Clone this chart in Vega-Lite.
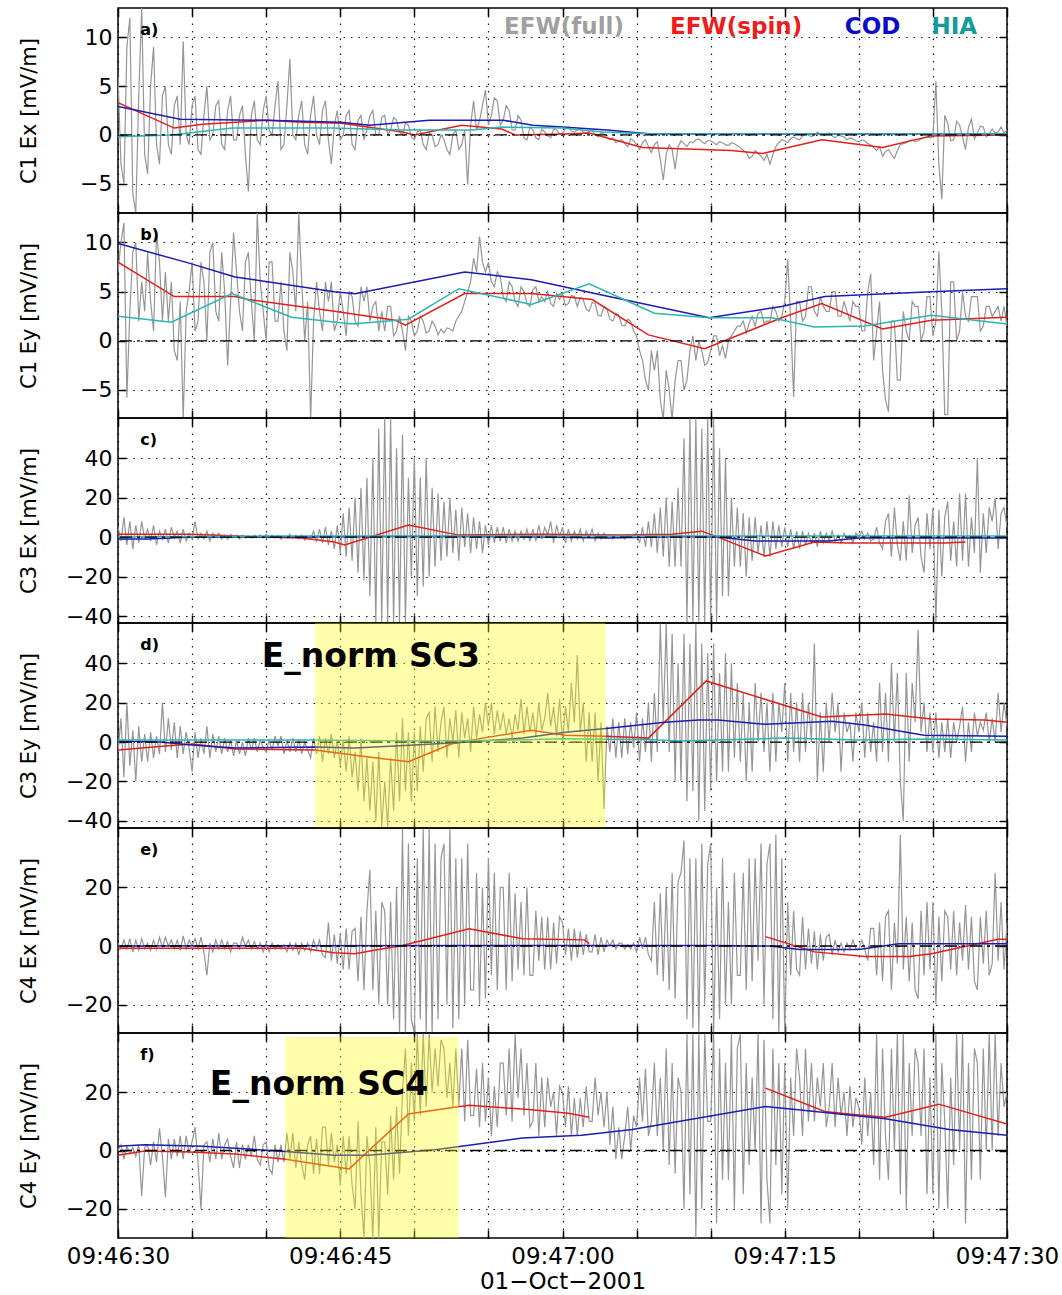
{
"$schema":"https://vega.github.io/schema/vega-lite/v6.json",
"padding":{"left":17,"top":6,"right":5,"bottom":5},
"spacing":0,
"bounds":"flush",
"config":{
 "font":"DejaVu Sans",
 "view":{"stroke":"#000","strokeWidth":1.5},
 "axis":{"grid":true,"gridColor":"#000","gridDash":[1.5,6],"gridWidth":1.2,"gridOpacity":0.9,"domain":false,"tickColor":"#000","tickSize":-8,"tickWidth":1.5,"labelFont":"DejaVu Sans","labelFontSize":22,"labelColor":"#000","titleFont":"DejaVu Sans","titleFontSize":21,"titleFontWeight":"normal","titleColor":"#000","labelFlush":false,"labelOverlap":false},
 "concat":{"spacing":0}
},
"datasets":{
"ga":[{"t":0,"v":6},{"t":0.2,"v":-3},{"t":0.4,"v":-5},{"t":0.6,"v":9},{"t":0.8,"v":12},{"t":1,"v":-6},{"t":1.2,"v":-8},{"t":1.4,"v":4},{"t":1.6,"v":13},{"t":1.8,"v":-2},{"t":2,"v":-4},{"t":2.2,"v":5},{"t":2.4,"v":9},{"t":2.6,"v":-1},{"t":2.8,"v":-3},{"t":3,"v":4},{"t":3.2,"v":5},{"t":3.4,"v":-1},{"t":3.6,"v":-2},{"t":3.8,"v":3},{"t":4,"v":4},{"t":4.2,"v":-1},{"t":4.4,"v":9.6},{"t":4.6,"v":0},{"t":4.8,"v":-1},{"t":5,"v":3},{"t":5.2,"v":4},{"t":5.4,"v":-1.5},{"t":5.6,"v":-2},{"t":5.8,"v":2},{"t":6,"v":5},{"t":6.2,"v":-0.5},{"t":6.4,"v":0},{"t":6.6,"v":3},{"t":6.8,"v":3.5},{"t":7,"v":-1},{"t":7.2,"v":-1.5},{"t":7.4,"v":2.5},{"t":7.6,"v":4},{"t":7.8,"v":-0.5},{"t":8,"v":-0.5},{"t":8.2,"v":2},{"t":8.4,"v":3},{"t":8.6,"v":-2},{"t":8.8,"v":-5.8},{"t":9,"v":2},{"t":9.2,"v":3.5},{"t":9.4,"v":-0.5},{"t":9.6,"v":-1},{"t":9.8,"v":2.5},{"t":10,"v":4},{"t":10.2,"v":0.5},{"t":10.4,"v":0},{"t":10.6,"v":3},{"t":10.8,"v":5.5},{"t":11,"v":-1.5},{"t":11.2,"v":-1},{"t":11.4,"v":3},{"t":11.6,"v":7.8},{"t":11.8,"v":0},{"t":12,"v":-0.5},{"t":12.2,"v":2},{"t":12.4,"v":3.5},{"t":12.6,"v":-1},{"t":12.8,"v":-2},{"t":13,"v":2},{"t":13.2,"v":4},{"t":13.4,"v":0},{"t":13.6,"v":-1},{"t":13.8,"v":2.5},{"t":14,"v":3.5},{"t":14.2,"v":-0.5},{"t":14.4,"v":-3},{"t":14.6,"v":1},{"t":14.8,"v":2.5},{"t":15,"v":-0.5},{"t":15.2,"v":0},{"t":15.4,"v":2},{"t":15.6,"v":2.5},{"t":15.8,"v":-1},{"t":16,"v":-1.5},{"t":16.2,"v":1.5},{"t":16.4,"v":2},{"t":16.6,"v":-0.5},{"t":16.8,"v":0.5},{"t":17,"v":2},{"t":17.2,"v":2.5},{"t":17.4,"v":0},{"t":17.6,"v":0},{"t":17.8,"v":1.8},{"t":18,"v":2},{"t":18.2,"v":0},{"t":18.4,"v":0.5},{"t":18.6,"v":1.8},{"t":18.8,"v":1.5},{"t":19,"v":0.3},{"t":19.2,"v":0},{"t":19.4,"v":1.2},{"t":19.6,"v":1},{"t":19.8,"v":-0.2},{"t":20,"v":-0.5},{"t":20.2,"v":0.3},{"t":20.4,"v":0.5},{"t":20.6,"v":-1},{"t":20.8,"v":-1.5},{"t":21,"v":0.2},{"t":21.2,"v":0},{"t":21.4,"v":-1.2},{"t":21.6,"v":-1},{"t":21.8,"v":0},{"t":22,"v":-0.5},{"t":22.2,"v":-1.5},{"t":22.4,"v":-2},{"t":22.6,"v":0},{"t":22.8,"v":0.5},{"t":23,"v":-1.5},{"t":23.2,"v":-1},{"t":23.4,"v":0.5},{"t":23.6,"v":-5.1},{"t":23.8,"v":1},{"t":24,"v":3.5},{"t":24.2,"v":0.5},{"t":24.4,"v":1.5},{"t":24.6,"v":3},{"t":24.8,"v":4.6},{"t":25,"v":1},{"t":25.2,"v":2},{"t":25.4,"v":3.8},{"t":25.6,"v":3.5},{"t":25.8,"v":1},{"t":26,"v":1.5},{"t":26.2,"v":3},{"t":26.4,"v":2.5},{"t":26.6,"v":0.5},{"t":26.8,"v":0.5},{"t":27,"v":2},{"t":27.2,"v":1.5},{"t":27.4,"v":-0.3},{"t":27.6,"v":-0.5},{"t":27.8,"v":0.8},{"t":28,"v":0.5},{"t":28.2,"v":-0.3},{"t":28.4,"v":-0.5},{"t":28.6,"v":0.6},{"t":28.8,"v":0.3},{"t":29,"v":-0.1},{"t":29.2,"v":-0.3},{"t":29.4,"v":0.6},{"t":29.6,"v":0.5},{"t":29.8,"v":0.1},{"t":30,"v":0.2},{"t":30.2,"v":0.6},{"t":30.4,"v":0.8},{"t":30.6,"v":0.4},{"t":30.8,"v":0.3},{"t":31,"v":0.5},{"t":31.2,"v":0.6},{"t":31.4,"v":0.3},{"t":31.6,"v":0.2},{"t":31.8,"v":0.4},{"t":32,"v":0.4},{"t":32.2,"v":0.1},{"t":32.4,"v":-0.2},{"t":32.6,"v":0.2},{"t":32.8,"v":0.1},{"t":33,"v":-0.3},{"t":33.2,"v":-0.5},{"t":33.4,"v":-0.3},{"t":33.6,"v":-0.8},{"t":33.8,"v":-0.6},{"t":34,"v":-0.5},{"t":34.2,"v":-0.9},{"t":34.4,"v":-1.2},{"t":34.6,"v":-0.4},{"t":34.8,"v":-0.6},{"t":35,"v":-1},{"t":35.2,"v":-1.5},{"t":35.4,"v":-0.8},{"t":35.6,"v":-0.5},{"t":35.8,"v":-1.2},{"t":36,"v":-1.8},{"t":36.2,"v":-1},{"t":36.4,"v":-0.7},{"t":36.6,"v":-2.5},{"t":36.8,"v":-4.6},{"t":37,"v":-2},{"t":37.2,"v":-1},{"t":37.4,"v":-1.5},{"t":37.6,"v":-3.5},{"t":37.8,"v":-1.2},{"t":38,"v":-0.6},{"t":38.2,"v":-0.9},{"t":38.4,"v":-1.2},{"t":38.6,"v":-0.7},{"t":38.8,"v":-0.8},{"t":39,"v":-0.5},{"t":39.2,"v":-0.4},{"t":39.4,"v":-0.7},{"t":39.6,"v":-0.9},{"t":39.8,"v":-0.6},{"t":40,"v":-0.6},{"t":40.2,"v":-0.8},{"t":40.4,"v":-1},{"t":40.6,"v":-0.7},{"t":40.8,"v":-0.8},{"t":41,"v":-1},{"t":41.2,"v":-1.1},{"t":41.4,"v":-0.8},{"t":41.6,"v":-0.9},{"t":41.8,"v":-1.1},{"t":42,"v":-1.3},{"t":42.2,"v":-1.6},{"t":42.4,"v":-1.8},{"t":42.6,"v":-2.4},{"t":42.8,"v":-2.2},{"t":43,"v":-1.6},{"t":43.2,"v":-1.9},{"t":43.4,"v":-2.2},{"t":43.6,"v":-2.6},{"t":43.8,"v":-2},{"t":44,"v":-3},{"t":44.2,"v":-2},{"t":44.4,"v":-1.2},{"t":44.6,"v":-0.8},{"t":44.8,"v":-0.5},{"t":45,"v":-0.6},{"t":45.2,"v":-0.8},{"t":45.4,"v":-0.4},{"t":45.6,"v":-0.2},{"t":45.8,"v":-0.4},{"t":46,"v":-0.5},{"t":46.2,"v":-0.1},{"t":46.4,"v":0.1},{"t":46.6,"v":0},{"t":46.8,"v":-0.2},{"t":47,"v":0},{"t":47.2,"v":0.3},{"t":47.4,"v":0.1},{"t":47.6,"v":0},{"t":47.8,"v":0.1},{"t":48,"v":0.2},{"t":48.2,"v":-0.1},{"t":48.4,"v":-0.3},{"t":48.6,"v":0},{"t":48.8,"v":-0.1},{"t":49,"v":-0.2},{"t":49.2,"v":-0.5},{"t":49.4,"v":-0.3},{"t":49.6,"v":-0.4},{"t":49.8,"v":-0.6},{"t":50,"v":-0.7},{"t":50.2,"v":-0.5},{"t":50.4,"v":-0.6},{"t":50.6,"v":-0.9},{"t":50.8,"v":-1},{"t":51,"v":-1.3},{"t":51.2,"v":-1.6},{"t":51.4,"v":-1.2},{"t":51.6,"v":-2.2},{"t":51.8,"v":-1.7},{"t":52,"v":-1.5},{"t":52.2,"v":-2},{"t":52.4,"v":-2.4},{"t":52.6,"v":-1.6},{"t":52.8,"v":-1},{"t":53,"v":-0.9},{"t":53.2,"v":-0.8},{"t":53.4,"v":-0.6},{"t":53.6,"v":-0.5},{"t":53.8,"v":-0.7},{"t":54,"v":-0.6},{"t":54.2,"v":-0.4},{"t":54.4,"v":-0.3},{"t":54.6,"v":-0.2},{"t":54.8,"v":-0.3},{"t":55,"v":-0.2},{"t":55.2,"v":5.5},{"t":55.4,"v":-3},{"t":55.6,"v":-6.6},{"t":55.8,"v":2},{"t":56,"v":1.2},{"t":56.2,"v":-0.6},{"t":56.4,"v":-0.5},{"t":56.6,"v":1.4},{"t":56.8,"v":1},{"t":57,"v":-0.2},{"t":57.2,"v":-1.5},{"t":57.4,"v":0.8},{"t":57.6,"v":1.6},{"t":57.8,"v":-0.4},{"t":58,"v":0.2},{"t":58.2,"v":0.9},{"t":58.4,"v":0.8},{"t":58.6,"v":-0.2},{"t":58.8,"v":0.1},{"t":59,"v":0.6},{"t":59.2,"v":0.2},{"t":59.4,"v":0.3},{"t":59.6,"v":0.8},{"t":59.8,"v":0.2},{"t":60,"v":0.5}],
"gb":[{"t":0,"v":7},{"t":0.2,"v":10},{"t":0.4,"v":12},{"t":0.6,"v":-5.8},{"t":0.8,"v":3},{"t":1,"v":9},{"t":1.2,"v":10},{"t":1.4,"v":2},{"t":1.6,"v":6},{"t":1.8,"v":3},{"t":2,"v":9},{"t":2.2,"v":4},{"t":2.4,"v":1},{"t":2.6,"v":11},{"t":2.8,"v":8},{"t":3,"v":2},{"t":3.2,"v":7},{"t":3.4,"v":2},{"t":3.6,"v":6},{"t":3.8,"v":-1},{"t":4,"v":-2},{"t":4.2,"v":4},{"t":4.4,"v":-8},{"t":4.6,"v":3},{"t":4.8,"v":5},{"t":5,"v":8},{"t":5.2,"v":1},{"t":5.4,"v":2},{"t":5.6,"v":8},{"t":5.8,"v":6},{"t":6,"v":0},{"t":6.2,"v":9},{"t":6.4,"v":10},{"t":6.6,"v":3},{"t":6.8,"v":2},{"t":7,"v":9},{"t":7.2,"v":5},{"t":7.4,"v":-2.5},{"t":7.6,"v":4},{"t":7.8,"v":11},{"t":8,"v":7},{"t":8.2,"v":3},{"t":8.4,"v":1},{"t":8.6,"v":8},{"t":8.8,"v":9},{"t":9,"v":4},{"t":9.2,"v":0},{"t":9.4,"v":13},{"t":9.6,"v":6},{"t":9.8,"v":3},{"t":10,"v":0},{"t":10.2,"v":8},{"t":10.4,"v":8},{"t":10.6,"v":2},{"t":10.8,"v":2},{"t":11,"v":6},{"t":11.2,"v":1},{"t":11.4,"v":-1},{"t":11.6,"v":9},{"t":11.8,"v":7},{"t":12,"v":3},{"t":12.2,"v":13},{"t":12.4,"v":6},{"t":12.6,"v":0},{"t":12.8,"v":4},{"t":13,"v":-8},{"t":13.2,"v":2},{"t":13.4,"v":6},{"t":13.6,"v":3},{"t":13.8,"v":1},{"t":14,"v":6},{"t":14.2,"v":4},{"t":14.4,"v":6},{"t":14.6,"v":1},{"t":14.8,"v":2},{"t":15,"v":5},{"t":15.2,"v":3},{"t":15.4,"v":0.5},{"t":15.6,"v":5},{"t":15.8,"v":4.5},{"t":16,"v":2},{"t":16.2,"v":1.5},{"t":16.4,"v":5.5},{"t":16.6,"v":4},{"t":16.8,"v":5.5},{"t":17,"v":2},{"t":17.2,"v":3.5},{"t":17.4,"v":4},{"t":17.6,"v":1},{"t":17.8,"v":3},{"t":18,"v":1},{"t":18.2,"v":3.5},{"t":18.4,"v":3.5},{"t":18.6,"v":0.5},{"t":18.8,"v":1},{"t":19,"v":2.5},{"t":19.2,"v":1},{"t":19.4,"v":-1},{"t":19.6,"v":2.5},{"t":19.8,"v":2},{"t":20,"v":0.5},{"t":20.2,"v":1},{"t":20.4,"v":2.5},{"t":20.6,"v":2},{"t":20.8,"v":0.8},{"t":21,"v":1},{"t":21.2,"v":2},{"t":21.4,"v":1.5},{"t":21.6,"v":0.6},{"t":21.8,"v":1.2},{"t":22,"v":0.8},{"t":22.2,"v":1.3},{"t":22.4,"v":1.2},{"t":22.6,"v":1},{"t":22.8,"v":2},{"t":23,"v":2.5},{"t":23.2,"v":3},{"t":23.4,"v":4},{"t":23.6,"v":5},{"t":23.8,"v":6},{"t":24,"v":8.4},{"t":24.2,"v":7},{"t":24.4,"v":10.6},{"t":24.6,"v":8},{"t":24.8,"v":7},{"t":25,"v":8},{"t":25.2,"v":6},{"t":25.4,"v":5.5},{"t":25.6,"v":7},{"t":25.8,"v":6.5},{"t":26,"v":4.5},{"t":26.2,"v":4},{"t":26.4,"v":6},{"t":26.6,"v":5.5},{"t":26.8,"v":4},{"t":27,"v":3.5},{"t":27.2,"v":5.5},{"t":27.4,"v":5},{"t":27.6,"v":3.8},{"t":27.8,"v":3.5},{"t":28,"v":5.2},{"t":28.2,"v":5.5},{"t":28.4,"v":4},{"t":28.6,"v":4.5},{"t":28.8,"v":4},{"t":29,"v":5},{"t":29.2,"v":3.8},{"t":29.4,"v":3.5},{"t":29.6,"v":4.8},{"t":29.8,"v":4.2},{"t":30,"v":4.8},{"t":30.2,"v":3.6},{"t":30.4,"v":3.8},{"t":30.6,"v":4.6},{"t":30.8,"v":4.5},{"t":31,"v":3.5},{"t":31.2,"v":4.4},{"t":31.4,"v":4.2},{"t":31.6,"v":3.2},{"t":31.8,"v":3},{"t":32,"v":3.9},{"t":32.2,"v":3.8},{"t":32.4,"v":2.6},{"t":32.6,"v":2.5},{"t":32.8,"v":3.5},{"t":33,"v":3.2},{"t":33.2,"v":2.2},{"t":33.4,"v":2},{"t":33.6,"v":2.8},{"t":33.8,"v":2.6},{"t":34,"v":1.6},{"t":34.2,"v":1.5},{"t":34.4,"v":2.2},{"t":34.6,"v":2},{"t":34.8,"v":1},{"t":35,"v":0.5},{"t":35.2,"v":-1},{"t":35.4,"v":-2},{"t":35.6,"v":-4},{"t":35.8,"v":-5},{"t":36,"v":-1},{"t":36.2,"v":-3},{"t":36.4,"v":-1},{"t":36.6,"v":-6},{"t":36.8,"v":-8},{"t":37,"v":-3},{"t":37.2,"v":-5},{"t":37.4,"v":-8},{"t":37.6,"v":-4},{"t":37.8,"v":-2},{"t":38,"v":-2},{"t":38.2,"v":-5},{"t":38.4,"v":-4},{"t":38.6,"v":-1},{"t":38.8,"v":0.5},{"t":39,"v":-2},{"t":39.2,"v":0},{"t":39.4,"v":-1},{"t":39.6,"v":-2.5},{"t":39.8,"v":-2.2},{"t":40,"v":-1},{"t":40.2,"v":0.5},{"t":40.4,"v":0.5},{"t":40.6,"v":-1.5},{"t":40.8,"v":-0.5},{"t":41,"v":-1.8},{"t":41.2,"v":0},{"t":41.4,"v":0.5},{"t":41.6,"v":1},{"t":41.8,"v":1.5},{"t":42,"v":1.5},{"t":42.2,"v":2},{"t":42.4,"v":0.8},{"t":42.6,"v":1.8},{"t":42.8,"v":2.5},{"t":43,"v":1.5},{"t":43.2,"v":2.8},{"t":43.4,"v":3},{"t":43.6,"v":1.8},{"t":43.8,"v":2},{"t":44,"v":2},{"t":44.2,"v":3.5},{"t":44.4,"v":3},{"t":44.6,"v":2},{"t":44.8,"v":2.5},{"t":45,"v":4},{"t":45.2,"v":8.3},{"t":45.4,"v":2},{"t":45.6,"v":-5.7},{"t":45.8,"v":4},{"t":46,"v":4},{"t":46.2,"v":2},{"t":46.4,"v":2.5},{"t":46.6,"v":5.5},{"t":46.8,"v":5.5},{"t":47,"v":3},{"t":47.2,"v":2.5},{"t":47.4,"v":4.5},{"t":47.6,"v":3.5},{"t":47.8,"v":3},{"t":48,"v":3},{"t":48.2,"v":5},{"t":48.4,"v":5},{"t":48.6,"v":2.5},{"t":48.8,"v":2.5},{"t":49,"v":4},{"t":49.2,"v":3},{"t":49.4,"v":2},{"t":49.6,"v":4},{"t":49.8,"v":3.5},{"t":50,"v":3.5},{"t":50.2,"v":1},{"t":50.4,"v":1},{"t":50.6,"v":5},{"t":50.8,"v":6.8},{"t":51,"v":-2},{"t":51.2,"v":1},{"t":51.4,"v":4},{"t":51.6,"v":-3},{"t":51.8,"v":-6},{"t":52,"v":-7.2},{"t":52.2,"v":2},{"t":52.4,"v":2},{"t":52.6,"v":-4},{"t":52.8,"v":-4},{"t":53,"v":3},{"t":53.2,"v":1},{"t":53.4,"v":0},{"t":53.6,"v":4},{"t":53.8,"v":3.5},{"t":54,"v":3.5},{"t":54.2,"v":0},{"t":54.4,"v":1},{"t":54.6,"v":4.5},{"t":54.8,"v":4.5},{"t":55,"v":0.5},{"t":55.2,"v":2},{"t":55.4,"v":9.1},{"t":55.6,"v":3},{"t":55.8,"v":-7.5},{"t":56,"v":-7.5},{"t":56.2,"v":6},{"t":56.4,"v":6},{"t":56.6,"v":0},{"t":56.8,"v":1},{"t":57,"v":5},{"t":57.2,"v":2.5},{"t":57.4,"v":2},{"t":57.6,"v":4.5},{"t":57.8,"v":4.5},{"t":58,"v":4.5},{"t":58.2,"v":1},{"t":58.4,"v":1.5},{"t":58.6,"v":3.5},{"t":58.8,"v":3.5},{"t":59,"v":2.5},{"t":59.2,"v":3},{"t":59.4,"v":3.5},{"t":59.6,"v":2},{"t":59.8,"v":3.5},{"t":60,"v":1.5}],
"gc":[{"t":0,"v":5},{"t":0.2,"v":-2},{"t":0.4,"v":10},{"t":0.6,"v":-4},{"t":0.8,"v":8},{"t":1,"v":-6},{"t":1.2,"v":6},{"t":1.4,"v":-3},{"t":1.6,"v":8},{"t":1.8,"v":-1},{"t":2,"v":4},{"t":2.2,"v":-2},{"t":2.4,"v":6},{"t":2.6,"v":-4},{"t":2.8,"v":3},{"t":3,"v":-1},{"t":3.2,"v":4},{"t":3.4,"v":-3},{"t":3.6,"v":5},{"t":3.8,"v":0},{"t":4,"v":3},{"t":4.2,"v":-3},{"t":4.4,"v":4},{"t":4.6,"v":-2},{"t":4.8,"v":2},{"t":5,"v":-1},{"t":5.2,"v":8},{"t":5.4,"v":-1},{"t":5.6,"v":2},{"t":5.8,"v":-1},{"t":6,"v":3},{"t":6.2,"v":-2},{"t":6.4,"v":2},{"t":6.6,"v":0},{"t":6.8,"v":2},{"t":7,"v":-1},{"t":7.2,"v":1},{"t":7.4,"v":-1},{"t":7.6,"v":1.5},{"t":7.8,"v":0},{"t":8,"v":1},{"t":8.2,"v":-1},{"t":8.4,"v":1},{"t":8.6,"v":-0.5},{"t":8.8,"v":0.5},{"t":9,"v":-0.5},{"t":9.2,"v":1},{"t":9.4,"v":0},{"t":9.6,"v":1},{"t":9.8,"v":-0.5},{"t":10,"v":1.5},{"t":10.2,"v":-0.5},{"t":10.4,"v":1},{"t":10.6,"v":-0.5},{"t":10.8,"v":1},{"t":11,"v":-1},{"t":11.2,"v":0.5},{"t":11.4,"v":-0.5},{"t":11.6,"v":1.5},{"t":11.8,"v":-0.5},{"t":12,"v":1},{"t":12.2,"v":-1},{"t":12.4,"v":1},{"t":12.6,"v":-1.5},{"t":12.8,"v":0.5},{"t":13,"v":-1},{"t":13.2,"v":3},{"t":13.4,"v":-2},{"t":13.6,"v":4},{"t":13.8,"v":-3},{"t":14,"v":5},{"t":14.2,"v":-4},{"t":14.4,"v":3},{"t":14.6,"v":-6},{"t":14.8,"v":6},{"t":15,"v":-8},{"t":15.2,"v":12},{"t":15.4,"v":-10},{"t":15.6,"v":15},{"t":15.8,"v":-12},{"t":16,"v":20},{"t":16.2,"v":-18},{"t":16.4,"v":25},{"t":16.6,"v":-22},{"t":16.8,"v":30},{"t":17,"v":-30},{"t":17.2,"v":40},{"t":17.4,"v":-43},{"t":17.6,"v":55},{"t":17.8,"v":-43},{"t":18,"v":60},{"t":18.2,"v":-43},{"t":18.4,"v":60},{"t":18.6,"v":-43},{"t":18.8,"v":45},{"t":19,"v":-43},{"t":19.2,"v":52},{"t":19.4,"v":-43},{"t":19.6,"v":30},{"t":19.8,"v":-20},{"t":20,"v":40},{"t":20.2,"v":-30},{"t":20.4,"v":30},{"t":20.6,"v":-25},{"t":20.8,"v":40},{"t":21,"v":-20},{"t":21.2,"v":25},{"t":21.4,"v":-15},{"t":21.6,"v":22},{"t":21.8,"v":-12},{"t":22,"v":18},{"t":22.2,"v":-10},{"t":22.4,"v":20},{"t":22.6,"v":-8},{"t":22.8,"v":14},{"t":23,"v":-12},{"t":23.2,"v":15},{"t":23.4,"v":-5},{"t":23.6,"v":12},{"t":23.8,"v":-8},{"t":24,"v":10},{"t":24.2,"v":-6},{"t":24.4,"v":8},{"t":24.6,"v":-8},{"t":24.8,"v":6},{"t":25,"v":-4},{"t":25.2,"v":6},{"t":25.4,"v":-3},{"t":25.6,"v":5},{"t":25.8,"v":-2},{"t":26,"v":5},{"t":26.2,"v":-3},{"t":26.4,"v":4},{"t":26.6,"v":-2},{"t":26.8,"v":3},{"t":27,"v":-2},{"t":27.2,"v":3},{"t":27.4,"v":-1},{"t":27.6,"v":4},{"t":27.8,"v":-2},{"t":28,"v":4},{"t":28.2,"v":-2},{"t":28.4,"v":6},{"t":28.6,"v":-1},{"t":28.8,"v":5},{"t":29,"v":1},{"t":29.2,"v":8},{"t":29.4,"v":-3},{"t":29.6,"v":6},{"t":29.8,"v":0},{"t":30,"v":5},{"t":30.2,"v":-3},{"t":30.4,"v":4},{"t":30.6,"v":-2},{"t":30.8,"v":3},{"t":31,"v":-1},{"t":31.2,"v":4},{"t":31.4,"v":-2},{"t":31.6,"v":3},{"t":31.8,"v":0},{"t":32,"v":4},{"t":32.2,"v":-2},{"t":32.4,"v":2},{"t":32.6,"v":-1},{"t":32.8,"v":2},{"t":33,"v":0},{"t":33.2,"v":1},{"t":33.4,"v":-1},{"t":33.6,"v":1},{"t":33.8,"v":-0.5},{"t":34,"v":1},{"t":34.2,"v":-1},{"t":34.4,"v":1},{"t":34.6,"v":0},{"t":34.8,"v":0.5},{"t":35,"v":2},{"t":35.2,"v":-3},{"t":35.4,"v":5},{"t":35.6,"v":-5},{"t":35.8,"v":8},{"t":36,"v":-5},{"t":36.2,"v":12},{"t":36.4,"v":-8},{"t":36.6,"v":15},{"t":36.8,"v":-10},{"t":37,"v":20},{"t":37.2,"v":-15},{"t":37.4,"v":18},{"t":37.6,"v":-15},{"t":37.8,"v":25},{"t":38,"v":-15},{"t":38.2,"v":50},{"t":38.4,"v":-43},{"t":38.6,"v":60},{"t":38.8,"v":-43},{"t":39,"v":60},{"t":39.2,"v":-43},{"t":39.4,"v":55},{"t":39.6,"v":-43},{"t":39.8,"v":60},{"t":40,"v":-43},{"t":40.2,"v":60},{"t":40.4,"v":-43},{"t":40.6,"v":45},{"t":40.8,"v":-30},{"t":41,"v":40},{"t":41.2,"v":-30},{"t":41.4,"v":20},{"t":41.6,"v":-15},{"t":41.8,"v":15},{"t":42,"v":-15},{"t":42.2,"v":12},{"t":42.4,"v":-20},{"t":42.6,"v":10},{"t":42.8,"v":-12},{"t":43,"v":10},{"t":43.2,"v":-8},{"t":43.4,"v":6},{"t":43.6,"v":-10},{"t":43.8,"v":8},{"t":44,"v":-10},{"t":44.2,"v":8},{"t":44.4,"v":-6},{"t":44.6,"v":6},{"t":44.8,"v":-5},{"t":45,"v":5},{"t":45.2,"v":-5},{"t":45.4,"v":4},{"t":45.6,"v":-6},{"t":45.8,"v":3},{"t":46,"v":-6},{"t":46.2,"v":3},{"t":46.4,"v":-4},{"t":46.6,"v":2},{"t":46.8,"v":-3},{"t":47,"v":2},{"t":47.2,"v":-5},{"t":47.4,"v":3},{"t":47.6,"v":-3},{"t":47.8,"v":2},{"t":48,"v":-2},{"t":48.2,"v":3},{"t":48.4,"v":-2},{"t":48.6,"v":1},{"t":48.8,"v":-3},{"t":49,"v":2},{"t":49.2,"v":-1},{"t":49.4,"v":1},{"t":49.6,"v":-3},{"t":49.8,"v":2},{"t":50,"v":0},{"t":50.2,"v":3},{"t":50.4,"v":-1},{"t":50.6,"v":2},{"t":50.8,"v":-2},{"t":51,"v":-1},{"t":51.2,"v":5},{"t":51.4,"v":-3},{"t":51.6,"v":-6},{"t":51.8,"v":8},{"t":52,"v":12},{"t":52.2,"v":-10},{"t":52.4,"v":15},{"t":52.6,"v":-4},{"t":52.8,"v":-12},{"t":53,"v":8},{"t":53.2,"v":-12},{"t":53.4,"v":21},{"t":53.6,"v":-8},{"t":53.8,"v":6},{"t":54,"v":10},{"t":54.2,"v":-10},{"t":54.4,"v":-18},{"t":54.6,"v":12},{"t":54.8,"v":-6},{"t":55,"v":15},{"t":55.2,"v":-43},{"t":55.4,"v":14},{"t":55.6,"v":-20},{"t":55.8,"v":10},{"t":56,"v":18},{"t":56.2,"v":-12},{"t":56.4,"v":8},{"t":56.6,"v":-15},{"t":56.8,"v":22},{"t":57,"v":-12},{"t":57.2,"v":22},{"t":57.4,"v":-15},{"t":57.6,"v":10},{"t":57.8,"v":-8},{"t":58,"v":40},{"t":58.2,"v":-18},{"t":58.4,"v":12},{"t":58.6,"v":-8},{"t":58.8,"v":15},{"t":59,"v":8},{"t":59.2,"v":20},{"t":59.4,"v":-6},{"t":59.6,"v":12},{"t":59.8,"v":15},{"t":60,"v":5}],
"gd":[{"t":0,"v":-5},{"t":0.2,"v":12},{"t":0.4,"v":-18},{"t":0.6,"v":20},{"t":0.8,"v":-12},{"t":1,"v":6},{"t":1.2,"v":-20},{"t":1.4,"v":8},{"t":1.6,"v":-10},{"t":1.8,"v":4},{"t":2,"v":-10},{"t":2.2,"v":5},{"t":2.4,"v":-8},{"t":2.6,"v":3},{"t":2.8,"v":-6},{"t":3,"v":20},{"t":3.2,"v":-5},{"t":3.4,"v":12},{"t":3.6,"v":-4},{"t":3.8,"v":10},{"t":4,"v":-8},{"t":4.2,"v":8},{"t":4.4,"v":-6},{"t":4.6,"v":5},{"t":4.8,"v":-3},{"t":5,"v":-15},{"t":5.2,"v":5},{"t":5.4,"v":-8},{"t":5.6,"v":2},{"t":5.8,"v":-6},{"t":6,"v":8},{"t":6.2,"v":-8},{"t":6.4,"v":4},{"t":6.6,"v":-5},{"t":6.8,"v":3},{"t":7,"v":-6},{"t":7.2,"v":2},{"t":7.4,"v":-5},{"t":7.6,"v":1},{"t":7.8,"v":-7},{"t":8,"v":1},{"t":8.2,"v":-6},{"t":8.4,"v":0},{"t":8.6,"v":-7},{"t":8.8,"v":2},{"t":9,"v":-4},{"t":9.2,"v":2},{"t":9.4,"v":-5},{"t":9.6,"v":1},{"t":9.8,"v":-3},{"t":10,"v":-5},{"t":10.2,"v":1},{"t":10.4,"v":-4},{"t":10.6,"v":3},{"t":10.8,"v":-2},{"t":11,"v":3},{"t":11.2,"v":-6},{"t":11.4,"v":1},{"t":11.6,"v":-5},{"t":11.8,"v":2},{"t":12,"v":-5},{"t":12.2,"v":1},{"t":12.4,"v":-6},{"t":12.6,"v":0},{"t":12.8,"v":-4},{"t":13,"v":-8},{"t":13.2,"v":2},{"t":13.4,"v":-6},{"t":13.6,"v":3},{"t":13.8,"v":-10},{"t":14,"v":2},{"t":14.2,"v":-6},{"t":14.4,"v":4},{"t":14.6,"v":-8},{"t":14.8,"v":1},{"t":15,"v":-12},{"t":15.2,"v":1},{"t":15.4,"v":-15},{"t":15.6,"v":3},{"t":15.8,"v":-18},{"t":16,"v":-5},{"t":16.2,"v":-25},{"t":16.4,"v":2},{"t":16.6,"v":-30},{"t":16.8,"v":-8},{"t":17,"v":-35},{"t":17.2,"v":-10},{"t":17.4,"v":-40},{"t":17.6,"v":-5},{"t":17.8,"v":-43},{"t":18,"v":-20},{"t":18.2,"v":-43},{"t":18.4,"v":-8},{"t":18.6,"v":-35},{"t":18.8,"v":5},{"t":19,"v":-30},{"t":19.2,"v":12},{"t":19.4,"v":-25},{"t":19.6,"v":5},{"t":19.8,"v":-30},{"t":20,"v":5},{"t":20.2,"v":-25},{"t":20.4,"v":8},{"t":20.6,"v":-15},{"t":20.8,"v":12},{"t":21,"v":15},{"t":21.2,"v":-10},{"t":21.4,"v":18},{"t":21.6,"v":-5},{"t":21.8,"v":10},{"t":22,"v":18},{"t":22.2,"v":-8},{"t":22.4,"v":12},{"t":22.6,"v":0},{"t":22.8,"v":16},{"t":23,"v":-8},{"t":23.2,"v":15},{"t":23.4,"v":2},{"t":23.6,"v":12},{"t":23.8,"v":-5},{"t":24,"v":18},{"t":24.2,"v":2},{"t":24.4,"v":14},{"t":24.6,"v":5},{"t":24.8,"v":20},{"t":25,"v":8},{"t":25.2,"v":20},{"t":25.4,"v":4},{"t":25.6,"v":16},{"t":25.8,"v":6},{"t":26,"v":15},{"t":26.2,"v":4},{"t":26.4,"v":12},{"t":26.6,"v":2},{"t":26.8,"v":14},{"t":27,"v":6},{"t":27.2,"v":22},{"t":27.4,"v":4},{"t":27.6,"v":18},{"t":27.8,"v":5},{"t":28,"v":15},{"t":28.2,"v":3},{"t":28.4,"v":20},{"t":28.6,"v":6},{"t":28.8,"v":12},{"t":29,"v":25},{"t":29.2,"v":8},{"t":29.4,"v":18},{"t":29.6,"v":3},{"t":29.8,"v":22},{"t":30,"v":0},{"t":30.2,"v":18},{"t":30.4,"v":5},{"t":30.6,"v":30},{"t":30.8,"v":10},{"t":31,"v":44},{"t":31.2,"v":5},{"t":31.4,"v":20},{"t":31.6,"v":-10},{"t":31.8,"v":15},{"t":32,"v":-10},{"t":32.2,"v":15},{"t":32.4,"v":-20},{"t":32.6,"v":10},{"t":32.8,"v":-34},{"t":33,"v":8},{"t":33.2,"v":-5},{"t":33.4,"v":12},{"t":33.6,"v":-8},{"t":33.8,"v":10},{"t":34,"v":-8},{"t":34.2,"v":12},{"t":34.4,"v":-6},{"t":34.6,"v":10},{"t":34.8,"v":-3},{"t":35,"v":15},{"t":35.2,"v":-10},{"t":35.4,"v":12},{"t":35.6,"v":-5},{"t":35.8,"v":20},{"t":36,"v":-10},{"t":36.2,"v":25},{"t":36.4,"v":-5},{"t":36.6,"v":60},{"t":36.8,"v":10},{"t":37,"v":60},{"t":37.2,"v":-5},{"t":37.4,"v":55},{"t":37.6,"v":-20},{"t":37.8,"v":40},{"t":38,"v":-20},{"t":38.2,"v":55},{"t":38.4,"v":-30},{"t":38.6,"v":50},{"t":38.8,"v":-25},{"t":39,"v":60},{"t":39.2,"v":-40},{"t":39.4,"v":50},{"t":39.6,"v":-35},{"t":39.8,"v":45},{"t":40,"v":-25},{"t":40.2,"v":50},{"t":40.4,"v":-20},{"t":40.6,"v":35},{"t":40.8,"v":-15},{"t":41,"v":45},{"t":41.2,"v":-15},{"t":41.4,"v":40},{"t":41.6,"v":-8},{"t":41.8,"v":30},{"t":42,"v":-10},{"t":42.2,"v":25},{"t":42.4,"v":-20},{"t":42.6,"v":20},{"t":42.8,"v":-15},{"t":43,"v":30},{"t":43.2,"v":0},{"t":43.4,"v":25},{"t":43.6,"v":-5},{"t":43.8,"v":20},{"t":44,"v":-15},{"t":44.2,"v":25},{"t":44.4,"v":-10},{"t":44.6,"v":20},{"t":44.8,"v":5},{"t":45,"v":30},{"t":45.2,"v":-10},{"t":45.4,"v":25},{"t":45.6,"v":-5},{"t":45.8,"v":20},{"t":46,"v":-10},{"t":46.2,"v":25},{"t":46.4,"v":-5},{"t":46.6,"v":20},{"t":46.8,"v":0},{"t":47,"v":50},{"t":47.2,"v":-20},{"t":47.4,"v":15},{"t":47.6,"v":-15},{"t":47.8,"v":20},{"t":48,"v":0},{"t":48.2,"v":25},{"t":48.4,"v":5},{"t":48.6,"v":20},{"t":48.8,"v":-15},{"t":49,"v":15},{"t":49.2,"v":5},{"t":49.4,"v":10},{"t":49.6,"v":-10},{"t":49.8,"v":15},{"t":50,"v":5},{"t":50.2,"v":20},{"t":50.4,"v":-8},{"t":50.6,"v":15},{"t":50.8,"v":-5},{"t":51,"v":10},{"t":51.2,"v":-10},{"t":51.4,"v":30},{"t":51.6,"v":-5},{"t":51.8,"v":25},{"t":52,"v":-10},{"t":52.2,"v":40},{"t":52.4,"v":0},{"t":52.6,"v":35},{"t":52.8,"v":-20},{"t":53,"v":-40},{"t":53.2,"v":35},{"t":53.4,"v":-10},{"t":53.6,"v":30},{"t":53.8,"v":10},{"t":54,"v":57},{"t":54.2,"v":5},{"t":54.4,"v":20},{"t":54.6,"v":-5},{"t":54.8,"v":15},{"t":55,"v":-5},{"t":55.2,"v":15},{"t":55.4,"v":-8},{"t":55.6,"v":10},{"t":55.8,"v":-5},{"t":56,"v":12},{"t":56.2,"v":-8},{"t":56.4,"v":10},{"t":56.6,"v":0},{"t":56.8,"v":8},{"t":57,"v":18},{"t":57.2,"v":-10},{"t":57.4,"v":10},{"t":57.6,"v":-5},{"t":57.8,"v":15},{"t":58,"v":3},{"t":58.2,"v":10},{"t":58.4,"v":6},{"t":58.6,"v":15},{"t":58.8,"v":0},{"t":59,"v":12},{"t":59.2,"v":0},{"t":59.4,"v":25},{"t":59.6,"v":5},{"t":59.8,"v":20},{"t":60,"v":8}],
"ge":[{"t":0,"v":1},{"t":0.2,"v":-1},{"t":0.4,"v":2},{"t":0.6,"v":-1},{"t":0.8,"v":2.5},{"t":1,"v":-2},{"t":1.2,"v":2},{"t":1.4,"v":-1.5},{"t":1.6,"v":2.5},{"t":1.8,"v":-1},{"t":2,"v":1},{"t":2.2,"v":-1.5},{"t":2.4,"v":2},{"t":2.6,"v":-1},{"t":2.8,"v":3},{"t":3,"v":-0.5},{"t":3.2,"v":3},{"t":3.4,"v":0},{"t":3.6,"v":2},{"t":3.8,"v":-1},{"t":4,"v":2},{"t":4.2,"v":-1.5},{"t":4.4,"v":3.5},{"t":4.6,"v":-1},{"t":4.8,"v":2},{"t":5,"v":0},{"t":5.2,"v":2.5},{"t":5.4,"v":-1},{"t":5.6,"v":3},{"t":5.8,"v":-2},{"t":6,"v":-10},{"t":6.2,"v":1},{"t":6.4,"v":-2},{"t":6.6,"v":2},{"t":6.8,"v":-1},{"t":7,"v":2},{"t":7.2,"v":-1},{"t":7.4,"v":1.5},{"t":7.6,"v":-2},{"t":7.8,"v":1},{"t":8,"v":1},{"t":8.2,"v":-1},{"t":8.4,"v":3},{"t":8.6,"v":0},{"t":8.8,"v":2},{"t":9,"v":-1},{"t":9.2,"v":1.5},{"t":9.4,"v":-1},{"t":9.6,"v":1},{"t":9.8,"v":-2},{"t":10,"v":1},{"t":10.2,"v":-2},{"t":10.4,"v":1},{"t":10.6,"v":-1},{"t":10.8,"v":0.5},{"t":11,"v":-1},{"t":11.2,"v":0.5},{"t":11.4,"v":-2},{"t":11.6,"v":1},{"t":11.8,"v":-1.5},{"t":12,"v":1},{"t":12.2,"v":-3},{"t":12.4,"v":1},{"t":12.6,"v":-1.5},{"t":12.8,"v":1},{"t":13,"v":-2},{"t":13.2,"v":2},{"t":13.4,"v":-1},{"t":13.6,"v":2},{"t":13.8,"v":-3},{"t":14,"v":-4},{"t":14.2,"v":8},{"t":14.4,"v":-5},{"t":14.6,"v":4},{"t":14.8,"v":-6},{"t":15,"v":4},{"t":15.2,"v":-8},{"t":15.4,"v":6},{"t":15.6,"v":-8},{"t":15.8,"v":5},{"t":16,"v":6},{"t":16.2,"v":-12},{"t":16.4,"v":10},{"t":16.6,"v":-15},{"t":16.8,"v":12},{"t":17,"v":26},{"t":17.2,"v":-15},{"t":17.4,"v":12},{"t":17.6,"v":-20},{"t":17.8,"v":15},{"t":18,"v":12},{"t":18.2,"v":-20},{"t":18.4,"v":15},{"t":18.6,"v":-25},{"t":18.8,"v":20},{"t":19,"v":-30},{"t":19.2,"v":40},{"t":19.4,"v":-30},{"t":19.6,"v":35},{"t":19.8,"v":-25},{"t":20,"v":-30},{"t":20.2,"v":30},{"t":20.4,"v":-25},{"t":20.6,"v":40},{"t":20.8,"v":-30},{"t":21,"v":40},{"t":21.2,"v":-30},{"t":21.4,"v":35},{"t":21.6,"v":-25},{"t":21.8,"v":30},{"t":22,"v":35},{"t":22.2,"v":-20},{"t":22.4,"v":40},{"t":22.6,"v":-28},{"t":22.8,"v":30},{"t":23,"v":-25},{"t":23.2,"v":30},{"t":23.4,"v":-20},{"t":23.6,"v":35},{"t":23.8,"v":-15},{"t":24,"v":-15},{"t":24.2,"v":25},{"t":24.4,"v":-20},{"t":24.6,"v":20},{"t":24.8,"v":-18},{"t":25,"v":30},{"t":25.2,"v":-10},{"t":25.4,"v":25},{"t":25.6,"v":-15},{"t":25.8,"v":20},{"t":26,"v":20},{"t":26.2,"v":-15},{"t":26.4,"v":25},{"t":26.6,"v":-12},{"t":26.8,"v":18},{"t":27,"v":-8},{"t":27.2,"v":15},{"t":27.4,"v":-10},{"t":27.6,"v":20},{"t":27.8,"v":-10},{"t":28,"v":-10},{"t":28.2,"v":12},{"t":28.4,"v":-5},{"t":28.6,"v":10},{"t":28.8,"v":-8},{"t":29,"v":10},{"t":29.2,"v":-8},{"t":29.4,"v":8},{"t":29.6,"v":-6},{"t":29.8,"v":10},{"t":30,"v":8},{"t":30.2,"v":-3},{"t":30.4,"v":6},{"t":30.6,"v":-5},{"t":30.8,"v":6},{"t":31,"v":-4},{"t":31.2,"v":5},{"t":31.4,"v":-3},{"t":31.6,"v":4},{"t":31.8,"v":-2},{"t":32,"v":-2},{"t":32.2,"v":4},{"t":32.4,"v":-3},{"t":32.6,"v":3},{"t":32.8,"v":-2},{"t":33,"v":2},{"t":33.2,"v":0},{"t":33.4,"v":2},{"t":33.6,"v":-1},{"t":33.8,"v":1},{"t":34,"v":1},{"t":34.2,"v":-1},{"t":34.4,"v":0.5},{"t":34.6,"v":-1},{"t":34.8,"v":1},{"t":35,"v":-2},{"t":35.2,"v":3},{"t":35.4,"v":-1},{"t":35.6,"v":3},{"t":35.8,"v":-3},{"t":36,"v":-5},{"t":36.2,"v":15},{"t":36.4,"v":-10},{"t":36.6,"v":18},{"t":36.8,"v":-12},{"t":37,"v":20},{"t":37.2,"v":-15},{"t":37.4,"v":25},{"t":37.6,"v":-18},{"t":37.8,"v":22},{"t":38,"v":25},{"t":38.2,"v":36},{"t":38.4,"v":-25},{"t":38.6,"v":30},{"t":38.8,"v":-28},{"t":39,"v":30},{"t":39.2,"v":-30},{"t":39.4,"v":35},{"t":39.6,"v":-20},{"t":39.8,"v":28},{"t":40,"v":35},{"t":40.2,"v":-30},{"t":40.4,"v":20},{"t":40.6,"v":-25},{"t":40.8,"v":30},{"t":41,"v":-20},{"t":41.2,"v":15},{"t":41.4,"v":-20},{"t":41.6,"v":25},{"t":41.8,"v":-10},{"t":42,"v":-10},{"t":42.2,"v":25},{"t":42.4,"v":-15},{"t":42.6,"v":30},{"t":42.8,"v":-12},{"t":43,"v":30},{"t":43.2,"v":-5},{"t":43.4,"v":35},{"t":43.6,"v":-20},{"t":43.8,"v":28},{"t":44,"v":35},{"t":44.2,"v":-25},{"t":44.4,"v":38},{"t":44.6,"v":-30},{"t":44.8,"v":30},{"t":45,"v":-30},{"t":45.2,"v":15},{"t":45.4,"v":-10},{"t":45.6,"v":12},{"t":45.8,"v":-8},{"t":46,"v":-10},{"t":46.2,"v":10},{"t":46.4,"v":-8},{"t":46.6,"v":6},{"t":46.8,"v":-6},{"t":47,"v":5},{"t":47.2,"v":-8},{"t":47.4,"v":4},{"t":47.6,"v":-5},{"t":47.8,"v":3},{"t":48,"v":4},{"t":48.2,"v":-3},{"t":48.4,"v":2},{"t":48.6,"v":-2},{"t":48.8,"v":1},{"t":49,"v":-2},{"t":49.2,"v":1},{"t":49.4,"v":-1},{"t":49.6,"v":2},{"t":49.8,"v":-1},{"t":50,"v":-1},{"t":50.2,"v":2},{"t":50.4,"v":-1},{"t":50.6,"v":-5},{"t":50.8,"v":6},{"t":51,"v":6},{"t":51.2,"v":-10},{"t":51.4,"v":8},{"t":51.6,"v":-12},{"t":51.8,"v":10},{"t":52,"v":12},{"t":52.2,"v":-15},{"t":52.4,"v":8},{"t":52.6,"v":-6},{"t":52.8,"v":38},{"t":53,"v":-8},{"t":53.2,"v":10},{"t":53.4,"v":-12},{"t":53.6,"v":8},{"t":53.8,"v":-15},{"t":54,"v":-18},{"t":54.2,"v":12},{"t":54.4,"v":-10},{"t":54.6,"v":15},{"t":54.8,"v":-8},{"t":55,"v":15},{"t":55.2,"v":-20},{"t":55.4,"v":10},{"t":55.6,"v":-12},{"t":55.8,"v":12},{"t":56,"v":10},{"t":56.2,"v":-8},{"t":56.4,"v":12},{"t":56.6,"v":-10},{"t":56.8,"v":8},{"t":57,"v":-5},{"t":57.2,"v":14},{"t":57.4,"v":-8},{"t":57.6,"v":10},{"t":57.8,"v":-12},{"t":58,"v":-15},{"t":58.2,"v":10},{"t":58.4,"v":-6},{"t":58.6,"v":12},{"t":58.8,"v":-10},{"t":59,"v":-6},{"t":59.2,"v":25},{"t":59.4,"v":-5},{"t":59.6,"v":15},{"t":59.8,"v":-8},{"t":60,"v":8}],
"gf":[{"t":0,"v":0},{"t":0.2,"v":2},{"t":0.4,"v":-3},{"t":0.6,"v":1.5},{"t":0.8,"v":-1},{"t":1,"v":1},{"t":1.2,"v":-2},{"t":1.4,"v":2},{"t":1.6,"v":-15.6},{"t":1.8,"v":1},{"t":2,"v":2},{"t":2.2,"v":-5},{"t":2.4,"v":3},{"t":2.6,"v":-4},{"t":2.8,"v":7.6},{"t":3,"v":-2},{"t":3.2,"v":-16},{"t":3.4,"v":4},{"t":3.6,"v":-3},{"t":3.8,"v":4},{"t":4,"v":-2},{"t":4.2,"v":5},{"t":4.4,"v":-3},{"t":4.6,"v":5},{"t":4.8,"v":-1},{"t":5,"v":3},{"t":5.2,"v":8},{"t":5.4,"v":-4},{"t":5.6,"v":-20},{"t":5.8,"v":2},{"t":6,"v":3},{"t":6.2,"v":-4},{"t":6.4,"v":4},{"t":6.6,"v":-3},{"t":6.8,"v":6},{"t":7,"v":-3},{"t":7.2,"v":2},{"t":7.4,"v":4},{"t":7.6,"v":-2},{"t":7.8,"v":-6},{"t":8,"v":3},{"t":8.2,"v":-6},{"t":8.4,"v":2},{"t":8.6,"v":-3},{"t":8.8,"v":2},{"t":9,"v":-2},{"t":9.2,"v":5},{"t":9.4,"v":-3},{"t":9.6,"v":-5},{"t":9.8,"v":2},{"t":10,"v":3},{"t":10.2,"v":-6},{"t":10.4,"v":-8},{"t":10.6,"v":2},{"t":10.8,"v":-4},{"t":11,"v":2},{"t":11.2,"v":-4},{"t":11.4,"v":6},{"t":11.6,"v":-3},{"t":11.8,"v":6},{"t":12,"v":-6},{"t":12.2,"v":3},{"t":12.4,"v":-5},{"t":12.6,"v":-10},{"t":12.8,"v":2},{"t":13,"v":5},{"t":13.2,"v":-8},{"t":13.4,"v":4},{"t":13.6,"v":-8},{"t":13.8,"v":8},{"t":14,"v":8},{"t":14.2,"v":-5},{"t":14.4,"v":6},{"t":14.6,"v":-4},{"t":14.8,"v":2},{"t":15,"v":-12},{"t":15.2,"v":5},{"t":15.4,"v":-8},{"t":15.6,"v":5},{"t":15.8,"v":-12},{"t":16,"v":-20},{"t":16.2,"v":10},{"t":16.4,"v":-15},{"t":16.6,"v":-30},{"t":16.8,"v":5},{"t":17,"v":-5},{"t":17.2,"v":-30},{"t":17.4,"v":8},{"t":17.6,"v":-30},{"t":17.8,"v":3},{"t":18,"v":3},{"t":18.2,"v":-15},{"t":18.4,"v":12},{"t":18.6,"v":-10},{"t":18.8,"v":15},{"t":19,"v":-8},{"t":19.2,"v":20},{"t":19.4,"v":35},{"t":19.6,"v":5},{"t":19.8,"v":30},{"t":20,"v":10},{"t":20.2,"v":40},{"t":20.4,"v":12},{"t":20.6,"v":40},{"t":20.8,"v":15},{"t":21,"v":40},{"t":21.2,"v":20},{"t":21.4,"v":35},{"t":21.6,"v":22},{"t":21.8,"v":38},{"t":22,"v":35},{"t":22.2,"v":18},{"t":22.4,"v":30},{"t":22.6,"v":15},{"t":22.8,"v":35},{"t":23,"v":15},{"t":23.2,"v":35},{"t":23.4,"v":10},{"t":23.6,"v":38},{"t":23.8,"v":12},{"t":24,"v":12},{"t":24.2,"v":28},{"t":24.4,"v":8},{"t":24.6,"v":30},{"t":24.8,"v":10},{"t":25,"v":25},{"t":25.2,"v":5},{"t":25.4,"v":22},{"t":25.6,"v":8},{"t":25.8,"v":30},{"t":26,"v":30},{"t":26.2,"v":12},{"t":26.4,"v":35},{"t":26.6,"v":10},{"t":26.8,"v":40},{"t":27,"v":18},{"t":27.2,"v":35},{"t":27.4,"v":12},{"t":27.6,"v":30},{"t":27.8,"v":8},{"t":28,"v":10},{"t":28.2,"v":30},{"t":28.4,"v":5},{"t":28.6,"v":25},{"t":28.8,"v":8},{"t":29,"v":25},{"t":29.2,"v":15},{"t":29.4,"v":20},{"t":29.6,"v":5},{"t":29.8,"v":22},{"t":30,"v":20},{"t":30.2,"v":8},{"t":30.4,"v":22},{"t":30.6,"v":5},{"t":30.8,"v":18},{"t":31,"v":5},{"t":31.2,"v":18},{"t":31.4,"v":8},{"t":31.6,"v":22},{"t":31.8,"v":10},{"t":32,"v":10},{"t":32.2,"v":25},{"t":32.4,"v":12},{"t":32.6,"v":20},{"t":32.8,"v":8},{"t":33,"v":20},{"t":33.2,"v":2},{"t":33.4,"v":15},{"t":33.6,"v":-3},{"t":33.8,"v":8},{"t":34,"v":-3},{"t":34.2,"v":5},{"t":34.4,"v":15},{"t":34.6,"v":0},{"t":34.8,"v":12},{"t":35,"v":8},{"t":35.2,"v":25},{"t":35.4,"v":10},{"t":35.6,"v":28},{"t":35.8,"v":5},{"t":36,"v":10},{"t":36.2,"v":30},{"t":36.4,"v":5},{"t":36.6,"v":25},{"t":36.8,"v":0},{"t":37,"v":35},{"t":37.2,"v":-5},{"t":37.4,"v":30},{"t":37.6,"v":-8},{"t":37.8,"v":25},{"t":38,"v":20},{"t":38.2,"v":-20},{"t":38.4,"v":40},{"t":38.6,"v":-15},{"t":38.8,"v":40},{"t":39,"v":-30},{"t":39.2,"v":40},{"t":39.4,"v":-20},{"t":39.6,"v":40},{"t":39.8,"v":10},{"t":40,"v":10},{"t":40.2,"v":40},{"t":40.4,"v":-25},{"t":40.6,"v":35},{"t":40.8,"v":-10},{"t":41,"v":30},{"t":41.2,"v":-10},{"t":41.4,"v":40},{"t":41.6,"v":-20},{"t":41.8,"v":35},{"t":42,"v":40},{"t":42.2,"v":-15},{"t":42.4,"v":30},{"t":42.6,"v":-5},{"t":42.8,"v":25},{"t":43,"v":0},{"t":43.2,"v":40},{"t":43.4,"v":-25},{"t":43.6,"v":38},{"t":43.8,"v":-10},{"t":44,"v":-25},{"t":44.2,"v":35},{"t":44.4,"v":-5},{"t":44.6,"v":30},{"t":44.8,"v":-15},{"t":45,"v":30},{"t":45.2,"v":-20},{"t":45.4,"v":25},{"t":45.6,"v":5},{"t":45.8,"v":35},{"t":46,"v":25},{"t":46.2,"v":5},{"t":46.4,"v":35},{"t":46.6,"v":10},{"t":46.8,"v":30},{"t":47,"v":10},{"t":47.2,"v":25},{"t":47.4,"v":15},{"t":47.6,"v":30},{"t":47.8,"v":8},{"t":48,"v":15},{"t":48.2,"v":30},{"t":48.4,"v":8},{"t":48.6,"v":25},{"t":48.8,"v":12},{"t":49,"v":20},{"t":49.2,"v":5},{"t":49.4,"v":22},{"t":49.6,"v":8},{"t":49.8,"v":18},{"t":50,"v":15},{"t":50.2,"v":2},{"t":50.4,"v":25},{"t":50.6,"v":5},{"t":50.8,"v":20},{"t":51,"v":-5},{"t":51.2,"v":40},{"t":51.4,"v":-10},{"t":51.6,"v":35},{"t":51.8,"v":5},{"t":52,"v":-10},{"t":52.2,"v":35},{"t":52.4,"v":0},{"t":52.6,"v":40},{"t":52.8,"v":-15},{"t":53,"v":40},{"t":53.2,"v":-20},{"t":53.4,"v":30},{"t":53.6,"v":5},{"t":53.8,"v":35},{"t":54,"v":30},{"t":54.2,"v":5},{"t":54.4,"v":35},{"t":54.6,"v":-15},{"t":54.8,"v":25},{"t":55,"v":-15},{"t":55.2,"v":40},{"t":55.4,"v":-20},{"t":55.6,"v":30},{"t":55.8,"v":10},{"t":56,"v":-20},{"t":56.2,"v":25},{"t":56.4,"v":-5},{"t":56.6,"v":40},{"t":56.8,"v":0},{"t":57,"v":40},{"t":57.2,"v":-25},{"t":57.4,"v":30},{"t":57.6,"v":-10},{"t":57.8,"v":35},{"t":58,"v":30},{"t":58.2,"v":-10},{"t":58.4,"v":35},{"t":58.6,"v":0},{"t":58.8,"v":40},{"t":59,"v":0},{"t":59.2,"v":40},{"t":59.4,"v":5},{"t":59.6,"v":30},{"t":59.8,"v":15},{"t":60,"v":20}],
"la":[{"s":"spin","t":0,"v":3.3},{"s":"spin","t":3.8,"v":0.7},{"s":"spin","t":5.7,"v":1.1},{"s":"spin","t":10,"v":1.5},{"s":"spin","t":12.4,"v":1.3},{"s":"spin","t":15.1,"v":1.2},{"s":"spin","t":19.2,"v":0.3},{"s":"spin","t":20,"v":0},{"s":"spin","t":23.2,"v":1},{"s":"spin","t":25.9,"v":0.6},{"s":"spin","t":26.8,"v":0},{"s":"spin","t":30.2,"v":0.1},{"s":"spin","t":31.8,"v":0.2},{"s":"spin","t":35.4,"v":-1.3},{"s":"spin","t":41.4,"v":-1.6},{"s":"spin","t":43.5,"v":-1.9},{"s":"spin","t":47.5,"v":-0.5},{"s":"spin","t":51.6,"v":-1.3},{"s":"spin","t":54.9,"v":-0.1},{"s":"spin","t":60,"v":0},
{"s":"cod","t":0,"v":2.9},{"s":"cod","t":4.2,"v":1.6},{"s":"cod","t":10,"v":1.5},{"s":"cod","t":15,"v":1.3},{"s":"cod","t":17,"v":1},{"s":"cod","t":21,"v":1.5},{"s":"cod","t":26,"v":1.5},{"s":"cod","t":28,"v":1},{"s":"cod","t":30,"v":0.8},{"s":"cod","t":33,"v":0.5},{"s":"cod","t":36,"v":0.1},{"s":"cod","t":60,"v":0.1},
{"s":"hia","t":0,"v":-0.2},{"s":"hia","t":3.6,"v":0},{"s":"hia","t":7.7,"v":0.7},{"s":"hia","t":14.4,"v":0.7},{"s":"hia","t":19.2,"v":0.5},{"s":"hia","t":23.9,"v":0.5},{"s":"hia","t":25.9,"v":0.8},{"s":"hia","t":30,"v":0.7},{"s":"hia","t":32.7,"v":0.3},{"s":"hia","t":36,"v":0.1},{"s":"hia","t":60,"v":0.1}],
"lb":[{"s":"spin","t":0,"v":8},{"s":"spin","t":3.8,"v":4.5},{"s":"spin","t":7.9,"v":4.5},{"s":"spin","t":8.8,"v":4.2},{"s":"spin","t":14.6,"v":3},{"s":"spin","t":18.7,"v":2.1},{"s":"spin","t":19.4,"v":1.6},{"s":"spin","t":23.4,"v":4.8},{"s":"spin","t":27.9,"v":4.8},{"s":"spin","t":30,"v":4.5},{"s":"spin","t":32,"v":4.2},{"s":"spin","t":35.8,"v":0.6},{"s":"spin","t":39.6,"v":-0.8},{"s":"spin","t":44.8,"v":2.35},{"s":"spin","t":47.5,"v":3.8},{"s":"spin","t":51.6,"v":1.2},{"s":"spin","t":54.9,"v":2.1},{"s":"spin","t":60,"v":2.4},
{"s":"cod","t":0,"v":9.9},{"s":"cod","t":4.8,"v":7.9},{"s":"cod","t":7.9,"v":6.5},{"s":"cod","t":14.6,"v":5},{"s":"cod","t":16,"v":4.8},{"s":"cod","t":23.4,"v":7},{"s":"cod","t":24.6,"v":6.8},{"s":"cod","t":27.9,"v":6.2},{"s":"cod","t":32.5,"v":4.7},{"s":"cod","t":39.9,"v":2.35},{"s":"cod","t":44.8,"v":3.5},{"s":"cod","t":47.7,"v":4.5},{"s":"cod","t":54.9,"v":5},{"s":"cod","t":60,"v":5.3},
{"s":"hia","t":0,"v":2.5},{"s":"hia","t":3.6,"v":1.9},{"s":"hia","t":7.7,"v":4.8},{"s":"hia","t":11.7,"v":2.4},{"s":"hia","t":15.8,"v":1.7},{"s":"hia","t":19.6,"v":2.2},{"s":"hia","t":23,"v":5.3},{"s":"hia","t":27.9,"v":3.7},{"s":"hia","t":31.8,"v":5.8},{"s":"hia","t":36.2,"v":2.8},{"s":"hia","t":39.9,"v":2.35},{"s":"hia","t":44.1,"v":2.35},{"s":"hia","t":47,"v":1.4},{"s":"hia","t":50.4,"v":1.5},{"s":"hia","t":54.9,"v":2.6},{"s":"hia","t":60,"v":1.7}],
"lc":[{"s":"spin","t":0,"v":1.5},{"s":"spin","t":4.9,"v":1.5},{"s":"spin","t":8,"v":0.5},{"s":"spin","t":12.4,"v":-0.5},{"s":"spin","t":14.6,"v":-2.5},{"s":"spin","t":15.3,"v":-4},{"s":"spin","t":19.6,"v":6.1},{"s":"spin","t":23,"v":1},{"s":"spin","t":28.8,"v":1.5},{"s":"spin","t":33.8,"v":1},{"s":"spin","t":37.4,"v":1.5},{"s":"spin","t":39.4,"v":3},{"s":"spin","t":40.5,"v":0},{"s":"spin","t":43.7,"v":-9.6},{"s":"spin","t":47,"v":-2.5},{"s":"spin","t":49.3,"v":-3},{"s":"spin","t":55.8,"v":-3},{"s":"spin","t":57.2,"v":-2.5},
{"s":"cod","t":0,"v":-1},{"s":"cod","t":2,"v":-1},{"s":"cod","t":5,"v":0},{"s":"cod","t":20,"v":0.3},{"s":"cod","t":28,"v":0.2},{"s":"cod","t":33,"v":-0.5},{"s":"cod","t":38,"v":0.3},{"s":"cod","t":40.5,"v":0},{"s":"cod","t":43,"v":-2},{"s":"cod","t":48,"v":-2},{"s":"cod","t":50,"v":-0.5},{"s":"cod","t":60,"v":-0.5},
{"s":"hia","t":0,"v":0},{"s":"hia","t":10,"v":0.5},{"s":"hia","t":30,"v":0.5},{"s":"hia","t":60,"v":0.5}],
"ld":[{"s":"spin","t":0,"v":-4},{"s":"spin","t":3.2,"v":-2},{"s":"spin","t":5,"v":-1},{"s":"spin","t":7.9,"v":-3.5},{"s":"spin","t":13.3,"v":-4},{"s":"spin","t":16.9,"v":-7.6},{"s":"spin","t":19.6,"v":-10},{"s":"spin","t":22.5,"v":-1},{"s":"spin","t":25,"v":2.5},{"s":"spin","t":27.9,"v":6},{"s":"spin","t":30.2,"v":3.5},{"s":"spin","t":32.9,"v":3},{"s":"spin","t":35.8,"v":2},{"s":"spin","t":39.7,"v":31},{"s":"spin","t":47.5,"v":12.7},{"s":"spin","t":51.8,"v":14.2},{"s":"spin","t":54.9,"v":11.7},{"s":"spin","t":58.5,"v":11.2},{"s":"spin","t":60,"v":10},
{"s":"cod","t":0,"v":0.5},{"s":"cod","t":2.8,"v":0},{"s":"cod","t":5,"v":-1.5},{"s":"cod","t":7.9,"v":-3},{"s":"cod","t":13.3,"v":-2.5},{"s":"cod","t":16,"v":-3},{"s":"cod","t":20,"v":-1.5},{"s":"cod","t":23.7,"v":0},{"s":"cod","t":27.3,"v":2},{"s":"cod","t":30.2,"v":5},{"s":"cod","t":33.1,"v":7},{"s":"cod","t":36.9,"v":10},{"s":"cod","t":39.2,"v":11.2},{"s":"cod","t":40.5,"v":11.2},{"s":"cod","t":43.7,"v":9},{"s":"cod","t":48.2,"v":10.5},{"s":"cod","t":50.4,"v":8.6},{"s":"cod","t":54.4,"v":3.5},{"s":"cod","t":60,"v":3},
{"s":"hia","t":0,"v":1},{"s":"hia","t":13.3,"v":1},{"s":"hia","t":20,"v":0.5},{"s":"hia","t":27,"v":1},{"s":"hia","t":30,"v":1.7},{"s":"hia","t":36,"v":1.2},{"s":"hia","t":38,"v":0.5},{"s":"hia","t":45,"v":2},{"s":"hia","t":50,"v":1},{"s":"hia","t":55,"v":1.5},{"s":"hia","t":60,"v":1}],
"le":[{"s":"spin","g":1,"t":0,"v":-0.8},{"s":"spin","g":1,"t":12.4,"v":-0.8},{"s":"spin","g":1,"t":14.6,"v":-2.3},{"s":"spin","g":1,"t":16,"v":-2.6},{"s":"spin","g":1,"t":17.1,"v":-1.6},{"s":"spin","g":1,"t":19.2,"v":0.2},{"s":"spin","g":1,"t":23.7,"v":5.9},{"s":"spin","g":1,"t":27.3,"v":2.5},{"s":"spin","g":1,"t":31.5,"v":2.1},{"s":"spin","g":1,"t":31.8,"v":0.8},
{"s":"spin","g":2,"t":43.7,"v":3.2},{"s":"spin","g":2,"t":47,"v":-2},{"s":"spin","g":2,"t":50.4,"v":-3.6},{"s":"spin","g":2,"t":53.4,"v":-3.6},{"s":"spin","g":2,"t":54.9,"v":-2.6},{"s":"spin","g":2,"t":59.4,"v":2.3},{"s":"spin","g":2,"t":60,"v":2.3},
{"s":"cod","t":0,"v":0},{"s":"cod","t":28,"v":0.2},{"s":"cod","t":40,"v":0.2},{"s":"cod","t":44,"v":0},{"s":"cod","t":46,"v":-1.2},{"s":"cod","t":50,"v":-1.2},{"s":"cod","t":52.7,"v":0.8},{"s":"cod","t":60,"v":0.8}],
"lf":[{"s":"spin","g":1,"t":0,"v":-1.6},{"s":"spin","g":1,"t":1.8,"v":-0.2},{"s":"spin","g":1,"t":4.8,"v":-0.5},{"s":"spin","g":1,"t":7.9,"v":-1.2},{"s":"spin","g":1,"t":11.3,"v":-3},{"s":"spin","g":1,"t":15.6,"v":-6.3},{"s":"spin","g":1,"t":19.6,"v":12.5},{"s":"spin","g":1,"t":22.7,"v":14.8},{"s":"spin","g":1,"t":23.7,"v":15.5},{"s":"spin","g":1,"t":27.9,"v":14},{"s":"spin","g":1,"t":30.4,"v":12.8},{"s":"spin","g":1,"t":31.8,"v":11.4},
{"s":"spin","g":2,"t":43.7,"v":21.4},{"s":"spin","g":2,"t":47.7,"v":13.4},{"s":"spin","g":2,"t":49.5,"v":12.4},{"s":"spin","g":2,"t":51.8,"v":11.4},{"s":"spin","g":2,"t":55.4,"v":15.9},{"s":"spin","g":2,"t":60,"v":9.1},
{"s":"cod","t":0,"v":1.5},{"s":"cod","t":1.8,"v":2},{"s":"cod","t":5.7,"v":1.5},{"s":"cod","t":11.3,"v":-0.3},{"s":"cod","t":14.6,"v":-1.6},{"s":"cod","t":16.9,"v":-1.6},{"s":"cod","t":21.4,"v":0.3},{"s":"cod","t":27.3,"v":4.3},{"s":"cod","t":31.3,"v":5.2},{"s":"cod","t":34.7,"v":7.2},{"s":"cod","t":43.7,"v":15.1},{"s":"cod","t":45.9,"v":14},{"s":"cod","t":51.8,"v":10.9},{"s":"cod","t":56.1,"v":7.2},{"s":"cod","t":60,"v":5.2}],
"lab":[{"p":"a","t":1.5,"v":10.2,"txt":"a)"},{"p":"b","t":1.5,"v":10.3,"txt":"b)"},{"p":"c","t":1.5,"v":46.6,"txt":"c)"},{"p":"d","t":1.5,"v":46.7,"txt":"d)"},{"p":"e","t":1.5,"v":31.1,"txt":"e)"},{"p":"f","t":1.5,"v":31.2,"txt":"f)"}],
"leg":[{"s":"full","t":26.05,"v":10.35,"txt":"EFW(full)"},{"s":"spin","t":37.25,"v":10.35,"txt":"EFW(spin)"},{"s":"cod","t":49.05,"v":10.35,"txt":"COD"},{"s":"hia","t":54.9,"v":10.35,"txt":"HIA"}],
"yel":[{"p":"d","t":13.3,"t2":32.9,"v":60.4,"v2":-43.6},{"p":"f","t":11.3,"t2":23,"v":39,"v2":-30}],
"en":[{"p":"d","t":9.7,"v":38.1,"txt":"E_norm SC3"},{"p":"f","t":6.2,"v":19.2,"txt":"E_norm SC4"}],
"one":[{"t":30,"v":0}]
},
"vconcat":[
{"width":889,"height":205,"resolve":{"axis":{"x":"independent","y":"independent"},"scale":{"color":"independent"}},
"layer":[
 {"data":{"name":"ga"},"mark":{"type":"line","color":"#969696","strokeWidth":1.2,"clip":true},
  "encoding":{"x":{"field":"t","type":"quantitative","scale":{"domain":[0,60],"nice":false,"zero":false},"axis":{"values":[0,5,10,15,20,25,30,35,40,45,50,55,60],"labels":false,"title":null}},
   "y":{"field":"v","type":"quantitative","scale":{"domain":[-8,13],"nice":false,"zero":false},"axis":{"values":[-5,0,5,10],"title":"C1 Ex [mV/m]","titleX":-83,"titleAngle":-90,"titleBaseline":"alphabetic","titleAlign":"center","labelPadding":14}}}},
 {"data":{"name":"la"},"mark":{"type":"line","strokeWidth":1.5,"clip":true},
  "encoding":{"x":{"field":"t","type":"quantitative","axis":null},"y":{"field":"v","type":"quantitative","axis":null},"color":{"field":"s","type":"nominal","scale":{"domain":["spin","cod","hia"],"range":["#e0201e","#1c1cb0","#2cb4b4"]},"legend":null},"detail":{"field":"g"}}},
 {"data":{"name":"one"},"mark":{"type":"rule","color":"#000","strokeWidth":1.3,"strokeDash":[12,5,3,5]},"encoding":{"y":{"field":"v","type":"quantitative","axis":null}}},
 {"data":{"name":"lab"},"transform":[{"filter":"datum.p=='a'"}],"mark":{"type":"text","fontSize":16,"fontWeight":"bold","align":"left","baseline":"alphabetic","color":"#000"},"encoding":{"x":{"field":"t","type":"quantitative","axis":null},"y":{"field":"v","type":"quantitative","axis":null},"text":{"field":"txt"}}},
 {"data":{"name":"leg"},"mark":{"type":"text","fontSize":23,"fontWeight":"bold","align":"left","baseline":"alphabetic"},"encoding":{"x":{"field":"t","type":"quantitative","axis":null},"y":{"field":"v","type":"quantitative","axis":null},"text":{"field":"txt"},"color":{"field":"s","type":"nominal","scale":{"domain":["full","spin","cod","hia"],"range":["#a0a0a0","#ee1c1c","#0c0cc8","#129c9c"]},"legend":null}}},
 {"data":{"name":"one"},"mark":{"type":"point","opacity":0},"encoding":{"x":{"field":"t","type":"quantitative","axis":{"orient":"top","values":[0,5,10,15,20,25,30,35,40,45,50,55,60],"labels":false,"grid":false,"title":null}},"y":{"field":"v","type":"quantitative","axis":{"orient":"right","values":[-5,0,5,10],"labels":false,"grid":false,"title":null}}}}
]},
{"width":889,"height":205,"resolve":{"axis":{"x":"independent","y":"independent"}},
"layer":[
 {"data":{"name":"gb"},"mark":{"type":"line","color":"#969696","strokeWidth":1.2,"clip":true},
  "encoding":{"x":{"field":"t","type":"quantitative","scale":{"domain":[0,60],"nice":false,"zero":false},"axis":{"values":[0,5,10,15,20,25,30,35,40,45,50,55,60],"labels":false,"title":null}},
   "y":{"field":"v","type":"quantitative","scale":{"domain":[-7.85,13],"nice":false,"zero":false},"axis":{"values":[-5,0,5,10],"title":"C1 Ey [mV/m]","titleX":-83,"titleAngle":-90,"titleBaseline":"alphabetic","titleAlign":"center","labelPadding":14}}}},
 {"data":{"name":"lb"},"mark":{"type":"line","strokeWidth":1.5,"clip":true},
  "encoding":{"x":{"field":"t","type":"quantitative","axis":null},"y":{"field":"v","type":"quantitative","axis":null},"color":{"field":"s","type":"nominal","scale":{"domain":["spin","cod","hia"],"range":["#e0201e","#1c1cb0","#2cb4b4"]},"legend":null},"detail":{"field":"g"}}},
 {"data":{"name":"one"},"mark":{"type":"rule","color":"#000","strokeWidth":1.3,"strokeDash":[12,5,3,5]},"encoding":{"y":{"field":"v","type":"quantitative","axis":null}}},
 {"data":{"name":"lab"},"transform":[{"filter":"datum.p=='b'"}],"mark":{"type":"text","fontSize":16,"fontWeight":"bold","align":"left","baseline":"alphabetic","color":"#000"},"encoding":{"x":{"field":"t","type":"quantitative","axis":null},"y":{"field":"v","type":"quantitative","axis":null},"text":{"field":"txt"}}},
 {"data":{"name":"one"},"mark":{"type":"point","opacity":0},"encoding":{"x":{"field":"t","type":"quantitative","axis":{"orient":"top","values":[0,5,10,15,20,25,30,35,40,45,50,55,60],"labels":false,"grid":false,"title":null}},"y":{"field":"v","type":"quantitative","axis":{"orient":"right","values":[-5,0,5,10],"labels":false,"grid":false,"title":null}}}}
]},
{"width":889,"height":205,"resolve":{"axis":{"x":"independent","y":"independent"}},
"layer":[
 {"data":{"name":"gc"},"mark":{"type":"line","color":"#969696","strokeWidth":1.2,"clip":true},
  "encoding":{"x":{"field":"t","type":"quantitative","scale":{"domain":[0,60],"nice":false,"zero":false},"axis":{"values":[0,5,10,15,20,25,30,35,40,45,50,55,60],"labels":false,"title":null}},
   "y":{"field":"v","type":"quantitative","scale":{"domain":[-43.5,60.3],"nice":false,"zero":false},"axis":{"values":[-40,-20,0,20,40],"title":"C3 Ex [mV/m]","titleX":-83,"titleAngle":-90,"titleBaseline":"alphabetic","titleAlign":"center","labelPadding":14}}}},
 {"data":{"name":"lc"},"mark":{"type":"line","strokeWidth":1.5,"clip":true},
  "encoding":{"x":{"field":"t","type":"quantitative","axis":null},"y":{"field":"v","type":"quantitative","axis":null},"color":{"field":"s","type":"nominal","scale":{"domain":["spin","cod","hia"],"range":["#e0201e","#1c1cb0","#2cb4b4"]},"legend":null},"detail":{"field":"g"}}},
 {"data":{"name":"one"},"mark":{"type":"rule","color":"#000","strokeWidth":1.3,"strokeDash":[12,5,3,5]},"encoding":{"y":{"field":"v","type":"quantitative","axis":null}}},
 {"data":{"name":"lab"},"transform":[{"filter":"datum.p=='c'"}],"mark":{"type":"text","fontSize":16,"fontWeight":"bold","align":"left","baseline":"alphabetic","color":"#000"},"encoding":{"x":{"field":"t","type":"quantitative","axis":null},"y":{"field":"v","type":"quantitative","axis":null},"text":{"field":"txt"}}},
 {"data":{"name":"one"},"mark":{"type":"point","opacity":0},"encoding":{"x":{"field":"t","type":"quantitative","axis":{"orient":"top","values":[0,5,10,15,20,25,30,35,40,45,50,55,60],"labels":false,"grid":false,"title":null}},"y":{"field":"v","type":"quantitative","axis":{"orient":"right","values":[-40,-20,0,20,40],"labels":false,"grid":false,"title":null}}}}
]},
{"width":889,"height":205,"resolve":{"axis":{"x":"independent","y":"independent"}},
"layer":[
 {"data":{"name":"gd"},"mark":{"type":"line","color":"#969696","strokeWidth":1.2,"clip":true},
  "encoding":{"x":{"field":"t","type":"quantitative","scale":{"domain":[0,60],"nice":false,"zero":false},"axis":{"values":[0,5,10,15,20,25,30,35,40,45,50,55,60],"labels":false,"title":null}},
   "y":{"field":"v","type":"quantitative","scale":{"domain":[-43.6,60.4],"nice":false,"zero":false},"axis":{"values":[-40,-20,0,20,40],"title":"C3 Ey [mV/m]","titleX":-83,"titleAngle":-90,"titleBaseline":"alphabetic","titleAlign":"center","labelPadding":14}}}},
 {"data":{"name":"ld"},"mark":{"type":"line","strokeWidth":1.5,"clip":true},
  "encoding":{"x":{"field":"t","type":"quantitative","axis":null},"y":{"field":"v","type":"quantitative","axis":null},"color":{"field":"s","type":"nominal","scale":{"domain":["spin","cod","hia"],"range":["#e0201e","#1c1cb0","#2cb4b4"]},"legend":null},"detail":{"field":"g"}}},
 {"data":{"name":"one"},"mark":{"type":"rule","color":"#000","strokeWidth":1.3,"strokeDash":[12,5,3,5]},"encoding":{"y":{"field":"v","type":"quantitative","axis":null}}},
 {"data":{"name":"yel"},"transform":[{"filter":"datum.p=='d'"}],"mark":{"type":"rect","color":"#ffff00","opacity":0.33,"clip":true},"encoding":{"x":{"field":"t","type":"quantitative","axis":null},"x2":{"field":"t2"},"y":{"field":"v","type":"quantitative","axis":null},"y2":{"field":"v2"}}},
 {"data":{"name":"en"},"transform":[{"filter":"datum.p=='d'"}],"mark":{"type":"text","fontSize":33,"fontWeight":"bold","align":"left","baseline":"alphabetic","color":"#000"},"encoding":{"x":{"field":"t","type":"quantitative","axis":null},"y":{"field":"v","type":"quantitative","axis":null},"text":{"field":"txt"}}},
 {"data":{"name":"lab"},"transform":[{"filter":"datum.p=='d'"}],"mark":{"type":"text","fontSize":16,"fontWeight":"bold","align":"left","baseline":"alphabetic","color":"#000"},"encoding":{"x":{"field":"t","type":"quantitative","axis":null},"y":{"field":"v","type":"quantitative","axis":null},"text":{"field":"txt"}}},
 {"data":{"name":"one"},"mark":{"type":"point","opacity":0},"encoding":{"x":{"field":"t","type":"quantitative","axis":{"orient":"top","values":[0,5,10,15,20,25,30,35,40,45,50,55,60],"labels":false,"grid":false,"title":null}},"y":{"field":"v","type":"quantitative","axis":{"orient":"right","values":[-40,-20,0,20,40],"labels":false,"grid":false,"title":null}}}}
]},
{"width":889,"height":205,"resolve":{"axis":{"x":"independent","y":"independent"}},
"layer":[
 {"data":{"name":"ge"},"mark":{"type":"line","color":"#969696","strokeWidth":1.2,"clip":true},
  "encoding":{"x":{"field":"t","type":"quantitative","scale":{"domain":[0,60],"nice":false,"zero":false},"axis":{"values":[0,5,10,15,20,25,30,35,40,45,50,55,60],"labels":false,"title":null}},
   "y":{"field":"v","type":"quantitative","scale":{"domain":[-29.7,40.3],"nice":false,"zero":false},"axis":{"values":[-20,0,20],"title":"C4 Ex [mV/m]","titleX":-83,"titleAngle":-90,"titleBaseline":"alphabetic","titleAlign":"center","labelPadding":14}}}},
 {"data":{"name":"le"},"mark":{"type":"line","strokeWidth":1.5,"clip":true},
  "encoding":{"x":{"field":"t","type":"quantitative","axis":null},"y":{"field":"v","type":"quantitative","axis":null},"color":{"field":"s","type":"nominal","scale":{"domain":["spin","cod","hia"],"range":["#e0201e","#1c1cb0","#2cb4b4"]},"legend":null},"detail":{"field":"g"}}},
 {"data":{"name":"one"},"mark":{"type":"rule","color":"#000","strokeWidth":1.3,"strokeDash":[12,5,3,5]},"encoding":{"y":{"field":"v","type":"quantitative","axis":null}}},
 {"data":{"name":"lab"},"transform":[{"filter":"datum.p=='e'"}],"mark":{"type":"text","fontSize":16,"fontWeight":"bold","align":"left","baseline":"alphabetic","color":"#000"},"encoding":{"x":{"field":"t","type":"quantitative","axis":null},"y":{"field":"v","type":"quantitative","axis":null},"text":{"field":"txt"}}},
 {"data":{"name":"one"},"mark":{"type":"point","opacity":0},"encoding":{"x":{"field":"t","type":"quantitative","axis":{"orient":"top","values":[0,5,10,15,20,25,30,35,40,45,50,55,60],"labels":false,"grid":false,"title":null}},"y":{"field":"v","type":"quantitative","axis":{"orient":"right","values":[-20,0,20],"labels":false,"grid":false,"title":null}}}}
]},
{"width":889,"height":205,"resolve":{"axis":{"x":"independent","y":"independent"}},
"layer":[
 {"data":{"name":"gf"},"mark":{"type":"line","color":"#969696","strokeWidth":1.2,"clip":true},
  "encoding":{"x":{"field":"t","type":"quantitative","scale":{"domain":[0,60],"nice":false,"zero":false},"axis":{"values":[0,5,10,15,20,25,30,35,40,45,50,55,60],"labelExpr":"datum.value % 15 == 0 ? ['09:46:30','09:46:45','09:47:00','09:47:15','09:47:30'][datum.value/15] : ''","labelFontSize":23,"labelPadding":15,"title":"01−Oct−2001","titleFontSize":23,"titlePadding":2}},
   "y":{"field":"v","type":"quantitative","scale":{"domain":[-30,40.3],"nice":false,"zero":false},"axis":{"values":[-20,0,20],"title":"C4 Ey [mV/m]","titleX":-83,"titleAngle":-90,"titleBaseline":"alphabetic","titleAlign":"center","labelPadding":14}}}},
 {"data":{"name":"lf"},"mark":{"type":"line","strokeWidth":1.5,"clip":true},
  "encoding":{"x":{"field":"t","type":"quantitative","axis":null},"y":{"field":"v","type":"quantitative","axis":null},"color":{"field":"s","type":"nominal","scale":{"domain":["spin","cod","hia"],"range":["#e0201e","#1c1cb0","#2cb4b4"]},"legend":null},"detail":{"field":"g"}}},
 {"data":{"name":"one"},"mark":{"type":"rule","color":"#000","strokeWidth":1.3,"strokeDash":[12,5,3,5]},"encoding":{"y":{"field":"v","type":"quantitative","axis":null}}},
 {"data":{"name":"yel"},"transform":[{"filter":"datum.p=='f'"}],"mark":{"type":"rect","color":"#ffff00","opacity":0.33,"clip":true},"encoding":{"x":{"field":"t","type":"quantitative","axis":null},"x2":{"field":"t2"},"y":{"field":"v","type":"quantitative","axis":null},"y2":{"field":"v2"}}},
 {"data":{"name":"en"},"transform":[{"filter":"datum.p=='f'"}],"mark":{"type":"text","fontSize":33,"fontWeight":"bold","align":"left","baseline":"alphabetic","color":"#000"},"encoding":{"x":{"field":"t","type":"quantitative","axis":null},"y":{"field":"v","type":"quantitative","axis":null},"text":{"field":"txt"}}},
 {"data":{"name":"lab"},"transform":[{"filter":"datum.p=='f'"}],"mark":{"type":"text","fontSize":16,"fontWeight":"bold","align":"left","baseline":"alphabetic","color":"#000"},"encoding":{"x":{"field":"t","type":"quantitative","axis":null},"y":{"field":"v","type":"quantitative","axis":null},"text":{"field":"txt"}}},
 {"data":{"name":"one"},"mark":{"type":"point","opacity":0},"encoding":{"x":{"field":"t","type":"quantitative","axis":{"orient":"top","values":[0,5,10,15,20,25,30,35,40,45,50,55,60],"labels":false,"grid":false,"title":null}},"y":{"field":"v","type":"quantitative","axis":{"orient":"right","values":[-20,0,20],"labels":false,"grid":false,"title":null}}}}
]}
]
}
